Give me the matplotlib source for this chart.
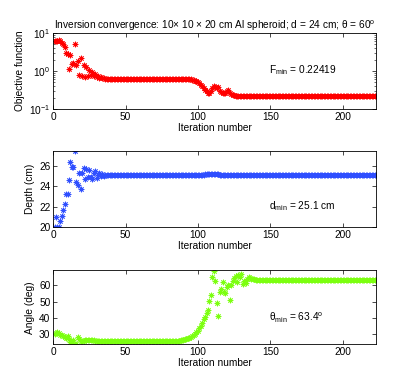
import matplotlib
matplotlib.use("Agg")
import matplotlib.pyplot as plt

plt.rcParams['font.family'] = ['Liberation Sans', 'DejaVu Sans']
plt.rcParams['mathtext.fontset'] = 'custom'
plt.rcParams['mathtext.rm'] = 'Liberation Sans'
plt.rcParams['mathtext.it'] = 'Liberation Sans'
plt.rcParams['font.size'] = 7.3

# objective function per iteration
obj_start = [6.0, 6.3, 6.0, 6.4, 6.2, 5.6, 5.0, 4.3, 2.9, 2.8,
             1.1, 2.7, 1.5, 1.6, 5.0, 1.4, 1.8, 0.78, 2.2, 0.72,
             1.45, 0.68, 1.25, 0.75, 1.05, 0.8, 0.92, 0.72, 0.85, 0.68,
             0.75, 0.66, 0.7, 0.64, 0.65, 0.63, 0.62]
obj_plateau1 = [0.61] * 57
obj_drop = [0.6, 0.59, 0.58, 0.56, 0.54, 0.52, 0.48, 0.44, 0.40, 0.36,
            0.32, 0.29, 0.26, 0.27, 0.30, 0.35, 0.40, 0.39, 0.36, 0.38,
            0.30, 0.28, 0.27, 0.26, 0.27, 0.29, 0.31, 0.27, 0.25, 0.24,
            0.235]
obj_plateau2 = [0.224] * 98
objective = obj_start + obj_plateau1 + obj_drop + obj_plateau2

# depth (cm)
depth_start = [20.0, 21.0, 20.0, 20.0, 20.6, 21.1, 21.7, 22.3, 23.3, 23.3,
               24.6, 26.4, 25.9, 25.9, 27.5, 24.4, 24.1, 25.3, 23.75, 25.3,
               25.8, 24.7, 25.7, 24.9, 25.6, 24.9, 24.7, 25.3, 25.5, 24.8,
               25.1, 25.3, 25.0, 25.2, 25.0, 25.15]
depth_mid = [25.1] * 66
depth_bump = [25.12, 25.15, 25.18, 25.2, 25.22, 25.24, 25.25, 25.25, 25.24,
              25.22, 25.2, 25.18, 25.15, 25.12]
depth_end = [25.1] * 107
depth = depth_start + depth_mid + depth_bump + depth_end

# angle (deg)
angle_start = [30, 30.5, 31, 30.5, 29.5, 29, 28.5, 28, 27.5, 28.5,
               26.5, 25, 24.5, 26, 24, 23.7, 28, 26.5, 25.8, 25.6,
               25.8, 25.9, 26.0, 26.2, 26.4, 26.4, 26.3, 26.1]
angle_flat = [25.8] * 59
angle_rise = [26.0, 26.2, 26.4, 26.6, 26.9, 27.2, 27.6, 28.0, 28.5, 29.0,
              30.0, 31.0, 32.0, 33.5, 35.0, 37.0, 39.0, 40.5, 43.0, 44.5,
              50.5, 54.0, 65.0, 69.0, 63.0, 49.0, 41.0, 56.0, 57.5, 62.0,
              56.0, 55.0, 59.0, 60.0, 51.0, 60.0, 62.5, 64.5, 66.0, 62.0,
              66.5, 65.0, 67.0, 61.0, 63.0, 61.5, 64.0, 65.0, 64.5, 64.2,
              64.0, 63.8, 63.6]
angle_end = [63.4] * 83
angle = angle_start + angle_flat + angle_rise + angle_end

iters = list(range(1, len(objective) + 1))

red = '#ff0000'
blue = '#2f4fff'
green = '#7cff10'
star = (8, 2, 0)


def style(ax):
    ax.set_xlim(0, 223)
    ax.set_xticks([0, 50, 100, 150, 200])
    ax.tick_params(direction='in', top=True, right=True, length=3, width=0.5,
                   labelsize=7.3, pad=2)
    ax.tick_params(which='minor', direction='in', top=True, right=True,
                   length=1.5, width=0.4)
    for s in ax.spines.values():
        s.set_linewidth(0.6)
    ax.set_xlabel('Iteration number', labelpad=1)


fig = plt.figure(figsize=(4.15, 3.92), dpi=100)

ax1 = fig.add_axes([0.128, 0.722, 0.778, 0.194])
ax1.semilogy(iters, objective, linestyle='none', marker=star, color=red,
             markersize=4, markeredgewidth=0.6)
ax1.set_ylim(0.1, 10)
style(ax1)
ax1.set_ylabel('Objective function', labelpad=3)
ax1.set_title('Inversion convergence: 10$\\times$ 10 $\\times$ 20 cm Al spheroid; '
              'd = 24 cm; \u03b8 = 60$^{\\rm o}$', fontsize=7.3, pad=3)
ax1.text(149, 1.07, 'F$_{\\rm min}$ = 0.22419', va='center')

ax2 = fig.add_axes([0.128, 0.421, 0.778, 0.194])
ax2.plot(iters, depth, linestyle='none', marker=star, color=blue,
         markersize=4, markeredgewidth=0.6)
ax2.set_ylim(20, 27.5)
ax2.set_yticks([20, 22, 24, 26])
style(ax2)
ax2.set_ylabel('Depth (cm)', labelpad=3)
ax2.text(149, 22.1, 'd$_{\\rm min}$ = 25.1 cm', va='center')

ax3 = fig.add_axes([0.128, 0.122, 0.778, 0.188])
ax3.plot(iters, angle, linestyle='none', marker=star, color=green,
         markersize=4, markeredgewidth=0.6)
ax3.set_ylim(23.6, 69.2)
ax3.set_yticks([30, 40, 50, 60])
style(ax3)
ax3.set_ylabel('Angle (deg)', labelpad=3)
ax3.text(149, 40, '\u03b8$_{\\rm min}$ = 63.4$^{\\rm o}$', va='center')

fig.savefig('out.png', dpi=100)
